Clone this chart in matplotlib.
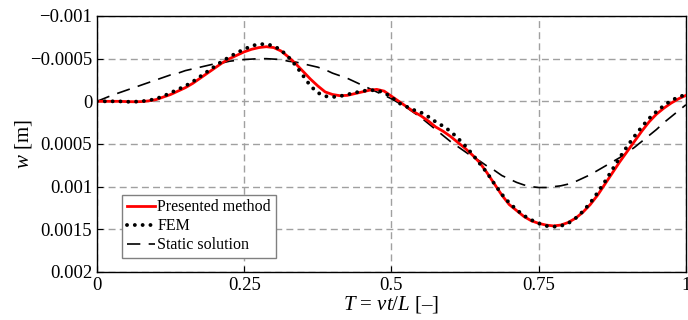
import matplotlib
matplotlib.use('Agg')
import matplotlib.pyplot as plt

# position of the load along the beam, T = vt/L (step 0.0125)
T = [0.0, 0.0125, 0.025, 0.0375, 0.05, 0.0625, 0.075, 0.0875, 0.1, 0.1125,
     0.125, 0.1375, 0.15, 0.1625, 0.175, 0.1875, 0.2, 0.2125, 0.225, 0.2375,
     0.25, 0.2625, 0.275, 0.2875, 0.3, 0.3125, 0.325, 0.3375, 0.35, 0.3625,
     0.375, 0.3875, 0.4, 0.4125, 0.425, 0.4375, 0.45, 0.4625, 0.475, 0.4875,
     0.5, 0.5125, 0.525, 0.5375, 0.55, 0.5625, 0.575, 0.5875, 0.6, 0.6125,
     0.625, 0.6375, 0.65, 0.6625, 0.675, 0.6875, 0.7, 0.7125, 0.725, 0.7375,
     0.75, 0.7625, 0.775, 0.7875, 0.8, 0.8125, 0.825, 0.8375, 0.85, 0.8625,
     0.875, 0.8875, 0.9, 0.9125, 0.925, 0.9375, 0.95, 0.9625, 0.975, 0.9875,
     1.0]

# deflection w [m]
w_presented = [
    0.0, 0.0, 0.0, 0.0, 0.000003, 0.000005, 0.000003, -0.000005, -0.00002, -0.00005,
    -0.00008, -0.00012, -0.00016, -0.00021, -0.00027, -0.00033, -0.00039, -0.00045, -0.0005, -0.00054,
    -0.00058, -0.00061, -0.00063, -0.00064, -0.00063, -0.00059, -0.00052, -0.00044, -0.00035, -0.00026,
    -0.00018, -0.00011, -0.00008, -0.000066, -0.00007, -0.00009, -0.00011, -0.00013, -0.00014, -0.00012,
    -0.00006, 0.0, 0.00006, 0.00012, 0.00017, 0.00023, 0.0003, 0.00035, 0.00041, 0.00048,
    0.00055, 0.00063, 0.00072, 0.00084, 0.00097, 0.0011, 0.00121, 0.00128, 0.00135, 0.0014,
    0.00143, 0.00145, 0.00146, 0.00145, 0.00142, 0.00137, 0.0013, 0.00121, 0.0011, 0.00097,
    0.00084, 0.00071, 0.00059, 0.00047, 0.00035, 0.00024, 0.00015, 0.00008, 0.00002, -0.00003,
    -0.00007]

w_fem = [
    0.0, 0.0, 0.0, 0.0, 0.000005, 0.000005, 0.0, -0.00001, -0.00003, -0.00006,
    -0.0001, -0.00014, -0.00018, -0.00023, -0.00029, -0.00035, -0.00041, -0.00047, -0.00052, -0.00057,
    -0.00061, -0.00065, -0.00067, -0.00067, -0.00065, -0.0006, -0.00052, -0.00042, -0.0003, -0.00018,
    -0.0001, -0.00006, -0.00005, -0.00006, -0.00008, -0.0001, -0.00012, -0.00013, -0.00013, -0.0001,
    -0.00005, 0.00002, 0.00006, 0.0001, 0.00013, 0.00018, 0.00024, 0.00029, 0.00035, 0.00043,
    0.00052, 0.00062, 0.00073, 0.00084, 0.00097, 0.00109, 0.00119, 0.00127, 0.00134, 0.00139,
    0.00143, 0.00146, 0.00147, 0.00146, 0.00143, 0.00137, 0.00129, 0.00119, 0.00107, 0.00094,
    0.0008, 0.00066, 0.00053, 0.00041, 0.0003, 0.0002, 0.00012, 0.00005, -0.00001, -0.00005,
    -0.00008]

w_static = [
    0.0, -0.000035, -0.00007, -0.0001, -0.00013, -0.00016, -0.00019, -0.00022, -0.00025, -0.00028,
    -0.00031, -0.00033, -0.00036, -0.00038, -0.0004, -0.00042, -0.00044, -0.00045, -0.00047, -0.00048,
    -0.00049, -0.000495, -0.0005, -0.0005, -0.000495, -0.00049, -0.00047, -0.00046, -0.00044, -0.00042,
    -0.0004, -0.00037, -0.00033, -0.0003, -0.00027, -0.00023, -0.00019, -0.00015, -0.00011, -0.00007,
    -0.00003, 0.00002, 0.00007, 0.00013, 0.00019, 0.00026, 0.00033, 0.0004, 0.00047, 0.00053,
    0.00059, 0.00065, 0.0007, 0.00076, 0.00081, 0.00087, 0.00091, 0.00095, 0.00098, 0.001,
    0.00101, 0.00101, 0.001, 0.00099, 0.00097, 0.00094, 0.0009, 0.00086, 0.00081, 0.00076,
    0.00071, 0.00066, 0.0006, 0.00054, 0.00047, 0.0004, 0.00033, 0.00025, 0.00018, 0.00011,
    0.00004]

x_ticks = [0, 0.25, 0.5, 0.75, 1]
x_ticklabels = ['0', '0.25', '0.5', '0.75', '1']
y_ticks = [-0.001, -0.0005, 0, 0.0005, 0.001, 0.0015, 0.002]
y_ticklabels = ['\u22120.001', '\u22120.0005', '0', '0.0005', '0.001', '0.0015', '0.002']

plt.rcParams['font.family'] = 'Liberation Serif'
plt.rcParams['mathtext.fontset'] = 'custom'
plt.rcParams['mathtext.rm'] = 'Liberation Serif'
plt.rcParams['mathtext.it'] = 'Liberation Serif:italic'

fig = plt.figure(figsize=(6.88, 3.2), dpi=100)
ax = fig.add_axes([0.141, 0.15, 0.856, 0.8])

ax.plot(T, w_presented, c='red', lw=2.0, label='Presented method', zorder=3)
ax.plot(T, w_fem, c='black', lw=2.8, dashes=(0.01, 2), dash_capstyle='round',
        label='FEM', zorder=4)
ax.plot(T, w_static, c='black', lw=1.2, dashes=(8, 5), label='Static solution', zorder=2)

ax.set_xlim(0, 1)
ax.set_ylim(0.002, -0.001)
ax.set_xticks(x_ticks)
ax.set_xticklabels(x_ticklabels)
ax.set_yticks(y_ticks)
ax.set_yticklabels(y_ticklabels)
ax.tick_params(axis='both', direction='in', labelsize=13.5, length=4)
ax.grid(True, color='#a0a0a0', linestyle=(0, (5, 3)), linewidth=1.0)
for s in ax.spines.values():
    s.set_linewidth(1.0)

ax.set_xlabel('$T$ = $vt/L$ [\u2013]', fontsize=15, labelpad=0)
ax.set_ylabel('$w$ [m]', fontsize=15, labelpad=-3)

leg = ax.legend(loc='lower left', bbox_to_anchor=(0.042, 0.055), borderaxespad=0,
                fontsize=11.5, handlelength=1.8, handletextpad=0.12, labelspacing=0.18,
                borderpad=0.3, fancybox=False, framealpha=1)
leg.get_frame().set_edgecolor('#808080')
leg.get_frame().set_linewidth(1.0)

fig.savefig('out.png', dpi=100)
